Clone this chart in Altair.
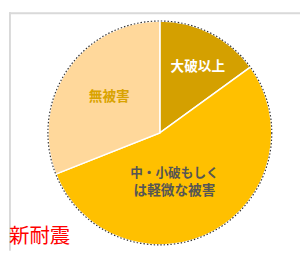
import altair as alt
import pandas as pd

categories = ["大破以上", "中・小破もしくは軽微な被害", "無被害"]
shares = [15, 54, 31]
colors = ["#D4A000", "#FFC000", "#FFD89B"]
title_text = "新耐震"

df = pd.DataFrame({"cat": categories, "share": shares, "order": [0, 1, 2]})

CX, CY, R = 155, 124, 115
FONT = "Noto Sans CJK JP"

pie = alt.Chart(df).mark_arc(radius=R, stroke="white", strokeWidth=1.5).encode(
    theta=alt.Theta("share:Q", stack=True),
    order=alt.Order("order:Q"),
    color=alt.Color("cat:N", scale=alt.Scale(domain=categories, range=colors), legend=None),
    x=alt.value(CX),
    y=alt.value(CY),
)

outline = alt.Chart(pd.DataFrame({"k": [0]})).mark_point(
    shape="circle", filled=False, size=(2 * R) ** 2, stroke="#333333",
    strokeWidth=1.2, strokeDash=[1.5, 2], opacity=1
).encode(x=alt.value(CX), y=alt.value(CY))

def label(text, x, y, color, size=14):
    return alt.Chart(pd.DataFrame({"t": [text]})).mark_text(
        font=FONT, fontSize=size, fontWeight="bold", color=color, align="center", baseline="middle"
    ).encode(text="t:N", x=alt.value(x), y=alt.value(y))

lab1 = label(categories[0], 194, 56, "white")
lab3 = label(categories[2], 103, 87, "#D9A300")
lab2a = label("中・小破もしく", 170, 165, "#555555", 13)
lab2b = label("は軽微な被害", 170, 184, "#555555")

title = alt.Chart(pd.DataFrame({"t": [title_text]})).mark_text(
    font=FONT, fontSize=21, color="#FF0000", align="left", baseline="middle"
).encode(text="t:N", x=alt.value(0), y=alt.value(231))

left_line = alt.Chart(pd.DataFrame({"k": [0]})).mark_rule(color="#D9D9D9", strokeWidth=2).encode(
    x=alt.value(1), y=alt.value(0), y2=alt.value(245)
)
top_line = alt.Chart(pd.DataFrame({"k": [0]})).mark_rule(color="#D9D9D9", strokeWidth=2).encode(
    x=alt.value(0), x2=alt.value(300), y=alt.value(1)
)

chart = alt.layer(left_line, top_line, pie, outline, lab1, lab3, lab2a, lab2b, title).properties(
    width=300, height=245, padding=0,
    autosize=alt.AutoSizeParams(type="fit", contains="padding"),
).configure_view(stroke=None)

chart.save("out.html", embed_options={"renderer": "svg", "actions": False})
